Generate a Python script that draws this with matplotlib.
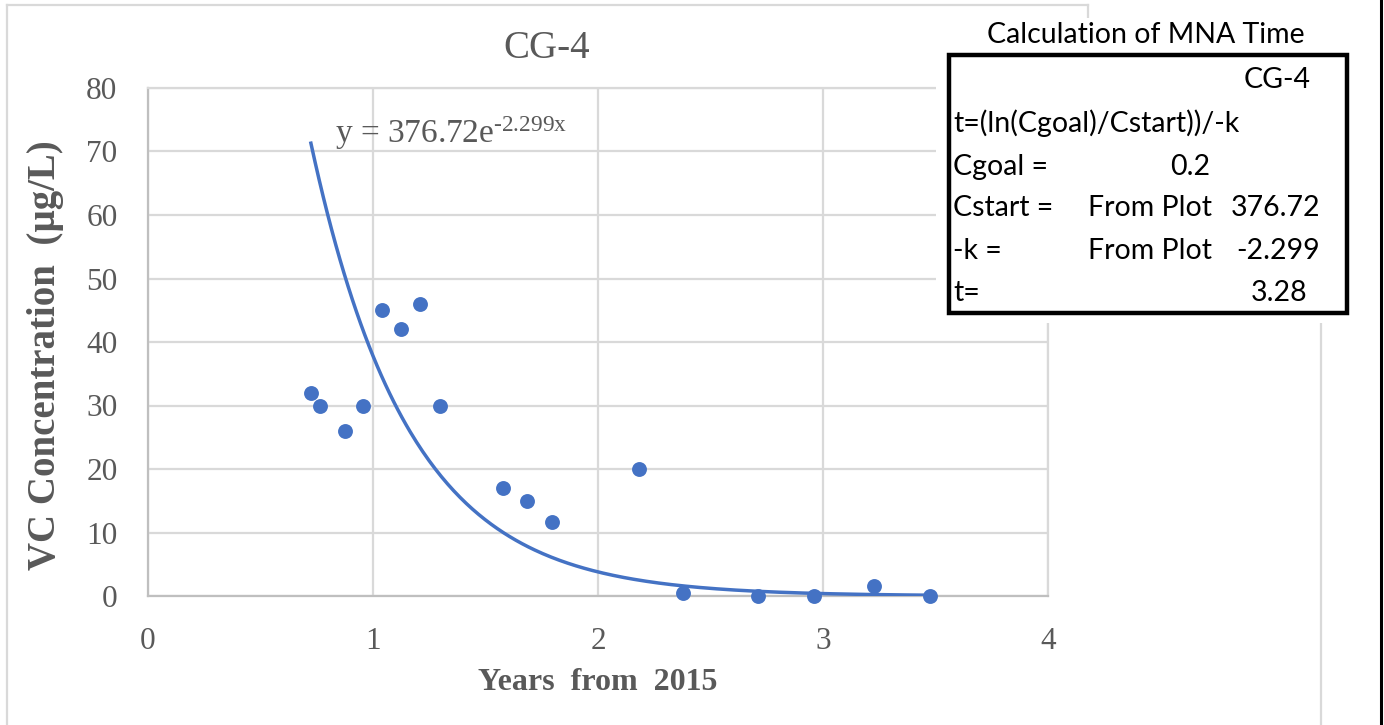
"""
CG-4 vinyl chloride decay plot with exponential trendline and MNA time box.
"""

import numpy as np
import matplotlib.pyplot as plt
from matplotlib.patches import Rectangle
from matplotlib.lines import Line2D


# ---------------------------------------------------------------------------
# Data
# ---------------------------------------------------------------------------

years = [0.724, 0.764, 0.876, 0.956, 1.04, 1.124, 1.209, 1.298,
         1.578, 1.684, 1.796, 2.18, 2.378, 2.71, 2.96, 3.227, 3.476]
vc_conc = [32, 30, 26, 30, 45, 42, 46, 30,
           17, 15, 11.7, 20, 0.5, 0, 0, 1.6, 0]

# exponential fit from the plot  y = C0 * exp(k x)
fit_c0 = 376.72
fit_k = -2.299

x_ticks = [0, 1, 2, 3, 4]
y_ticks = [0, 10, 20, 30, 40, 50, 60, 70, 80]

# MNA calculation table
table_title = "Calculation of MNA Time"
table_well = "CG-4"
table_formula = "t=(ln(Cgoal)/Cstart))/-k"
table_labels = ["Cgoal =", "Cstart =", "-k =", "t="]
table_source = ["", "From Plot", "From Plot", ""]
table_values = ["0.2", "376.72", "-2.299", "3.28"]

BLUE = "#4472C4"
GRID = "#D9D9D9"
TEXT = "#595959"

W, H = 1384, 725


def fx(px):
    return px / W


def fy(py):
    return 1 - py / H


plt.rcParams["mathtext.fontset"] = "custom"
plt.rcParams["mathtext.rm"] = "Liberation Serif"
plt.rcParams["mathtext.it"] = "Liberation Serif"

fig = plt.figure(figsize=(W / 100, H / 100), dpi=100)
fig.patch.set_facecolor("white")

ax = fig.add_axes([fx(148), fy(596), fx(1048) - fx(148), fy(88) - fy(596)])

# --- scatter + trendline ---
ax.scatter(years, vc_conc, s=115, color=BLUE, zorder=4, linewidths=0, clip_on=False)
xs = np.linspace(min(years), max(years), 300)
ax.plot(xs, fit_c0 * np.exp(fit_k * xs), color=BLUE, lw=2.5, zorder=3)

eq = "y = %.2fe$^{\\text{%.3fx}}$" % (fit_c0, fit_k)
ax.text(0.83, 71.3, eq, family="Liberation Serif",
        fontsize=24, color=TEXT, va="baseline", ha="left", zorder=5)

ax.set_xlim(0, 4)
ax.set_ylim(0, 80)
ax.set_xticks(x_ticks)
ax.set_yticks(y_ticks)
ax.grid(True, color=GRID, lw=1.6)
ax.set_axisbelow(True)
for side in ["top", "right", "left", "bottom"]:
    ax.spines[side].set_color(GRID)
    ax.spines[side].set_linewidth(1.6)
ax.spines["bottom"].set_color("#BFBFBF")
ax.spines["left"].set_color("#BFBFBF")
ax.tick_params(length=0, labelsize=22.5, labelcolor=TEXT, pad=22)
for lab in ax.get_xticklabels() + ax.get_yticklabels():
    lab.set_family("Liberation Serif")

# titles / axis labels (positioned in figure coords)
fig.text(fx(547), fy(48), "CG-4", family="Liberation Serif", fontsize=28,
         color=TEXT, ha="center", va="center")
fig.text(fx(598), fy(683), "Years  from  2015", family="Liberation Serif",
         fontsize=23, weight="bold", color=TEXT, ha="center", va="center")
fig.text(fx(46), fy(355), "VC Concentration  (\u00b5g/L)", family="Liberation Serif",
         fontsize=28, weight="bold", color=TEXT, ha="center", va="center",
         rotation=90)

# ---------------------------------------------------------------------------
# Chart area frame and the pasted calculation box
# ---------------------------------------------------------------------------

frame_lines = [
    ([7, 7], [5, 725]),
    ([7, 1088], [5, 5]),
    ([1088, 1088], [5, 18]),
    ([1321, 1321], [323, 725]),
]
for xx, yy in frame_lines:
    fig.add_artist(Line2D([fx(v) for v in xx], [fy(v) for v in yy],
                          color=GRID, lw=1.6))

# white cell background that hides the gridlines
fig.add_artist(Rectangle((fx(936), fy(323)), fx(1376) - fx(936), fy(18) - fy(323),
                         facecolor="white", edgecolor="none", zorder=5))
fig.add_artist(Rectangle((fx(949), fy(313)), fx(1347) - fx(949), fy(55) - fy(313),
                         facecolor="none", edgecolor="black", lw=3.2, zorder=6))
fig.add_artist(Line2D([fx(1381), fx(1381)], [0, 1], color="black", lw=2.2, zorder=6))

tkw = dict(family="Lato", fontsize=20.5, color="black", va="center", zorder=7)
fig.text(fx(1146), fy(35), table_title, ha="center", **tkw)
fig.text(fx(1311), fy(80), table_well, ha="right", **tkw)
fig.text(fx(953), fy(123), table_formula, ha="left", **tkw)

row_y = [167, 208, 251, 293]
for i, (lab, src, val) in enumerate(zip(table_labels, table_source, table_values)):
    fig.text(fx(953), fy(row_y[i]), lab, ha="left", **tkw)
    if src:
        fig.text(fx(1088), fy(row_y[i]), src, ha="left", **tkw)
    if i == 0:
        fig.text(fx(1190), fy(row_y[i]), val, ha="center", **tkw)
    elif i == 3:
        fig.text(fx(1307), fy(row_y[i]), val, ha="right", **tkw)
    else:
        fig.text(fx(1320), fy(row_y[i]), val, ha="right", **tkw)

fig.savefig("out.png", dpi=100, facecolor="white")
